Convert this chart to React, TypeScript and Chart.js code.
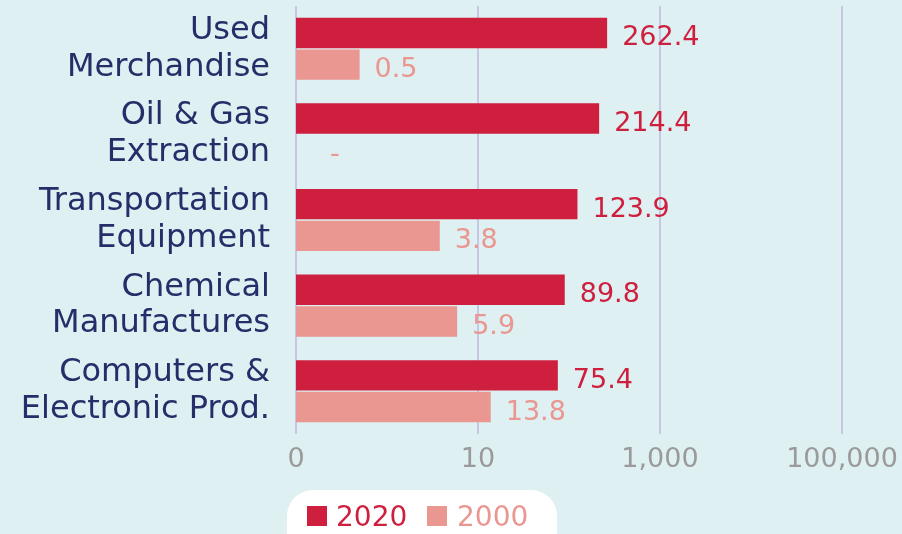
import React, { useEffect, useRef } from 'react';
import { Chart, registerables } from 'chart.js';
Chart.register(...registerables);

const categories: string[][] = [
  ['Used', 'Merchandise'],
  ['Oil & Gas', 'Extraction'],
  ['Transportation', 'Equipment'],
  ['Chemical', 'Manufactures'],
  ['Computers &', 'Electronic Prod.'],
];
const series2020: (number | null)[] = [262.4, 214.4, 123.9, 89.8, 75.4];
const series2000: (number | null)[] = [0.5, null, 3.8, 5.9, 13.8];
const seriesNames = ['2020', '2000'];
const xTickValues = [0.1, 10, 1000, 100000];
const xTickLabels = ['0', '10', '1,000', '100,000'];
const missingLabel = '-';

const COLOR_2020 = '#ce1f3e';
const COLOR_2000 = '#ea9691';
const BG = '#def0f2';
const FONT = "'DejaVu Sans', sans-serif";

const valueLabelPlugin = {
  id: 'valueLabels',
  afterDatasetsDraw(chart: any) {
    const ctx = chart.ctx;
    const xScale = chart.scales.x;
    ctx.save();
    ctx.font = `27px ${FONT}`;
    ctx.textAlign = 'left';
    ctx.textBaseline = 'alphabetic';
    chart.data.datasets.forEach((ds: any, di: number) => {
      const meta = chart.getDatasetMeta(di);
      ctx.fillStyle = ds.backgroundColor;
      meta.data.forEach((el: any, i: number) => {
        const v = ds.data[i];
        let y = el.y;
        if (!isFinite(y)) {
          const other = chart.getDatasetMeta(di === 0 ? 1 : 0).data[i];
          y = other.y + (di === 0 ? -1 : 1) * other.height;
        }
        if (v === null || v === undefined) {
          ctx.fillText(missingLabel, xScale.left + 34, y + 12);
        } else {
          ctx.fillText(String(v), el.x + 15, y + 12.5);
        }
      });
    });
    ctx.restore();
  },
};

const legendPlugin = {
  id: 'pillLegend',
  afterDraw(chart: any) {
    const ctx = chart.ctx;
    ctx.save();
    const x = 287, y = 490, w = 270, h = 70, r = 26;
    ctx.fillStyle = '#ffffff';
    ctx.beginPath();
    ctx.moveTo(x + r, y);
    ctx.lineTo(x + w - r, y);
    ctx.arcTo(x + w, y, x + w, y + r, r);
    ctx.lineTo(x + w, y + h);
    ctx.lineTo(x, y + h);
    ctx.lineTo(x, y + r);
    ctx.arcTo(x, y, x + r, y, r);
    ctx.closePath();
    ctx.fill();
    ctx.font = `28px ${FONT}`;
    ctx.textBaseline = 'alphabetic';
    ctx.textAlign = 'left';
    const items = [
      { label: seriesNames[0], color: COLOR_2020, bx: 307, tx: 336 },
      { label: seriesNames[1], color: COLOR_2000, bx: 427, tx: 457 },
    ];
    items.forEach((it) => {
      ctx.fillStyle = it.color;
      ctx.fillRect(it.bx, 506, 20, 20);
      ctx.fillText(it.label, it.tx, 526);
    });
    ctx.restore();
  },
};

export default function App() {
  const ref = useRef<HTMLCanvasElement | null>(null);
  useEffect(() => {
    if (!ref.current) return;
    const chart = new Chart(ref.current, {
      type: 'bar',
      data: {
        labels: categories,
        datasets: [
          {
            label: seriesNames[0],
            data: series2020,
            backgroundColor: COLOR_2020,
            categoryPercentage: 0.74,
            barPercentage: 0.96,
          },
          {
            label: seriesNames[1],
            data: series2000,
            backgroundColor: COLOR_2000,
            categoryPercentage: 0.74,
            barPercentage: 0.96,
          },
        ],
      },
      options: {
        indexAxis: 'y',
        responsive: false,
        animation: false,
        layout: { padding: { top: 6, right: 60, left: 0, bottom: 0 } },
        plugins: { legend: { display: false }, tooltip: { enabled: false } },
        scales: {
          x: {
            type: 'logarithmic',
            min: 0.1,
            max: 100000,
            afterBuildTicks(scale: any) {
              scale.ticks = xTickValues.map((v) => ({ value: v }));
            },
            afterFit(scale: any) {
              scale.height = 100;
              scale.paddingLeft = 0;
              scale.paddingRight = 0;
            },
            ticks: {
              callback: (v: any) => {
                const idx = xTickValues.indexOf(Number(v));
                return idx >= 0 ? xTickLabels[idx] : '';
              },
              color: '#9a9a9a',
              font: { family: FONT, size: 27 },
              padding: 10,
              maxRotation: 0,
              autoSkip: false,
            },
            grid: { color: '#c7c7e3', lineWidth: 2, drawTicks: false },
            border: { display: false },
          },
          y: {
            afterFit(scale: any) {
              scale.width = 296;
              scale.paddingTop = 0;
              scale.paddingBottom = 0;
            },
            ticks: {
              color: '#272d68',
              font: { family: FONT, size: 32, lineHeight: 1.15 },
              padding: 26,
              autoSkip: false,
            },
            grid: { display: false, drawTicks: false },
            border: { display: false },
          },
        },
      },
      plugins: [valueLabelPlugin, legendPlugin],
    } as any);
    return () => chart.destroy();
  }, []);
  return (
    <div style={{ position: 'fixed', left: 0, top: 0, width: 902, height: 534, background: BG }}>
      <canvas ref={ref} width={902} height={534} />
    </div>
  );
}
